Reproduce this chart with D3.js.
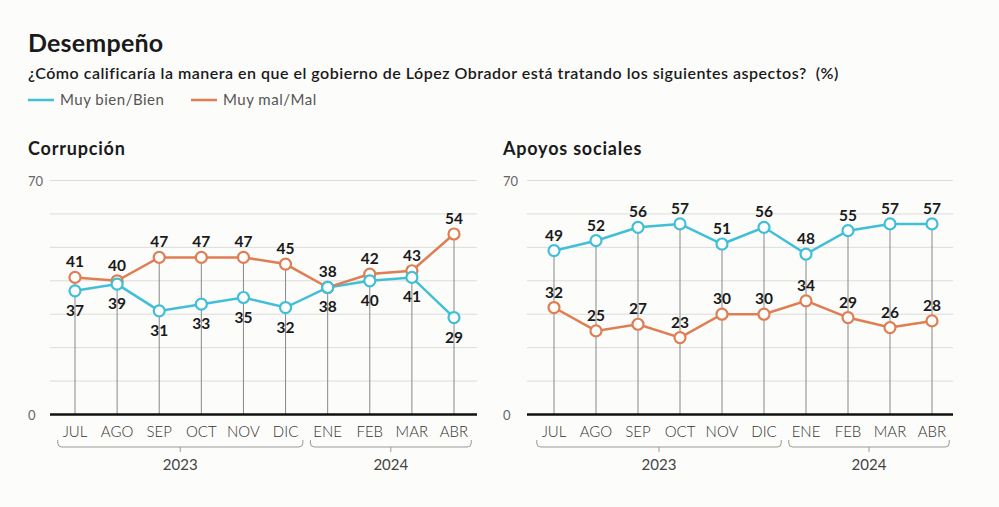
<!DOCTYPE html>
<html><head><meta charset="utf-8">
<script src="https://cdn.jsdelivr.net/npm/d3@7"></script>
<style>
html,body{margin:0;padding:0;background:#fcfcfa;}
svg{display:block;font-family:"Lato","Open Sans",sans-serif;}
</style></head>
<body>
<svg id="chart" width="999" height="507"></svg>
<script>
const months = ["JUL","AGO","SEP","OCT","NOV","DIC","ENE","FEB","MAR","ABR"];
const years = [{label:"2023", from:"JUL", to:"DIC"},{label:"2024", from:"ENE", to:"ABR"}];
const yTicks = [0,10,20,30,40,50,60,70];
const yLabelTicks = [0,70];
const corrupcionBien = [37,39,31,33,35,32,38,40,41,29];
const corrupcionMal  = [41,40,47,47,47,45,38,42,43,54];
const apoyosBien = [49,52,56,57,51,56,48,55,57,57];
const apoyosMal  = [32,25,27,23,30,30,34,29,26,28];
const seriesNames = ["Muy bien/Bien","Muy mal/Mal"];
const colors = {bien:"#3fbfd8", mal:"#df7e52"};

const svg = d3.select("#chart");
svg.append("rect").attr("width",999).attr("height",507).attr("fill","#fcfcfa");

svg.append("text").attr("x",28).attr("y",52).text("Desempeño")
  .attr("font-size",25).attr("font-weight",700).attr("fill","#1a1a1a").attr("letter-spacing",0.2);
svg.append("text").attr("x",28).attr("y",79)
  .text("¿Cómo calificaría la manera en que el gobierno de López Obrador está tratando los siguientes aspectos?\u00a0\u00a0(%)")
  .attr("font-size",16).attr("font-weight",600).attr("fill","#1a1a1a").attr("letter-spacing",0.5);

// legend
const leg = [{name:seriesNames[0], c:colors.bien, x:28},{name:seriesNames[1], c:colors.mal, x:191}];
leg.forEach(l=>{
  svg.append("line").attr("x1",l.x).attr("x2",l.x+26).attr("y1",100).attr("y2",100)
    .attr("stroke",l.c).attr("stroke-width",2.5);
  svg.append("text").attr("x",l.x+32).attr("y",105).text(l.name)
    .attr("font-size",15).attr("fill","#555").attr("letter-spacing",0.5);
});

function panel(opts){
  const g = svg.append("g");
  const x = d3.scalePoint().domain(months).range([opts.x0, opts.x1]);
  const y = d3.scaleLinear().domain([0,70]).range([414.5,180.5]);
  const step = x.step();
  g.append("text").attr("x",opts.titleX).attr("y",155).text(opts.title)
    .attr("font-size",18).attr("font-weight",700).attr("fill","#1a1a1a").attr("letter-spacing",0.8);
  // grid
  g.selectAll(".grid").data(yTicks.filter(d=>d>0)).join("line")
    .attr("x1",opts.g0).attr("x2",opts.g1).attr("y1",d=>y(d)).attr("y2",d=>y(d))
    .attr("stroke","#dcdcda").attr("stroke-width",1);
  g.selectAll(".yl").data(yLabelTicks).join("text")
    .attr("x",opts.titleX).attr("y",d=>y(d)+5).text(d=>d)
    .attr("font-size",13).attr("fill","#666");
  // vertical drop lines
  g.selectAll(".drop").data(months).join("line")
    .attr("x1",d=>x(d)).attr("x2",d=>x(d))
    .attr("y1",(d,i)=>y(Math.max(opts.bien[i],opts.mal[i])))
    .attr("y2",y(0)).attr("stroke","#888").attr("stroke-width",1);
  // axis
  g.append("line").attr("x1",opts.g0).attr("x2",opts.g1).attr("y1",y(0)).attr("y2",y(0))
    .attr("stroke","#111").attr("stroke-width",2.5);
  g.selectAll(".ml").data(months).join("text")
    .attr("x",d=>x(d)).attr("y",437).attr("text-anchor","middle").text(d=>d)
    .attr("font-size",15).attr("font-weight",300).attr("fill","#333");
  // year brackets
  years.forEach(yr=>{
    const a = x(yr.from) - step*0.41, b = x(yr.to) + step*0.41, m=(a+b)/2;
    const t=440, bot=447, r=4;
    g.append("path").attr("d",`M${a},${t} L${a},${bot-r} Q${a},${bot} ${a+r},${bot} L${b-r},${bot} Q${b},${bot} ${b},${bot-r} L${b},${t} M${m},${bot} L${m},${bot+5}`)
      .attr("fill","none").attr("stroke","#999").attr("stroke-width",1);
    g.append("text").attr("x",m).attr("y",470).attr("text-anchor","middle").text(yr.label)
      .attr("font-size",15).attr("fill","#444");
  });
  const line = d3.line().x((d,i)=>x(months[i])).y(d=>y(d));
  const ser = [{k:"bien",v:opts.bien,pos:opts.bienPos},{k:"mal",v:opts.mal,pos:opts.malPos}];
  ser.forEach(s=>{
    g.append("path").datum(s.v).attr("d",line).attr("fill","none")
      .attr("stroke",colors[s.k]).attr("stroke-width",2.5);
  });
  ser.slice().reverse().forEach(s=>{
    g.selectAll(".pt"+s.k).data(s.v).join("circle")
      .attr("cx",(d,i)=>x(months[i])).attr("cy",d=>y(d)).attr("r",5.5)
      .attr("fill","#fff").attr("stroke",colors[s.k]).attr("stroke-width",2.2);
  });
  ser.forEach(s=>{
    g.selectAll(".lb"+s.k).data(s.v).join("text")
      .attr("x",(d,i)=>x(months[i]))
      .attr("y",(d,i)=>s.pos==="above"? y(d)-10 : y(d)+25)
      .attr("text-anchor","middle").text(d=>d)
      .attr("font-size",15.5).attr("font-weight",700).attr("fill","#1a1a1a");
  });
}

panel({title:"Corrupción", titleX:28, x0:75, x1:454, g0:50, g1:477,
  bien:corrupcionBien, mal:corrupcionMal, bienPos:"below", malPos:"above"});
panel({title:"Apoyos sociales", titleX:503, x0:554, x1:932, g0:527, g1:953,
  bien:apoyosBien, mal:apoyosMal, bienPos:"above", malPos:"above"});
</script>
</body></html>
